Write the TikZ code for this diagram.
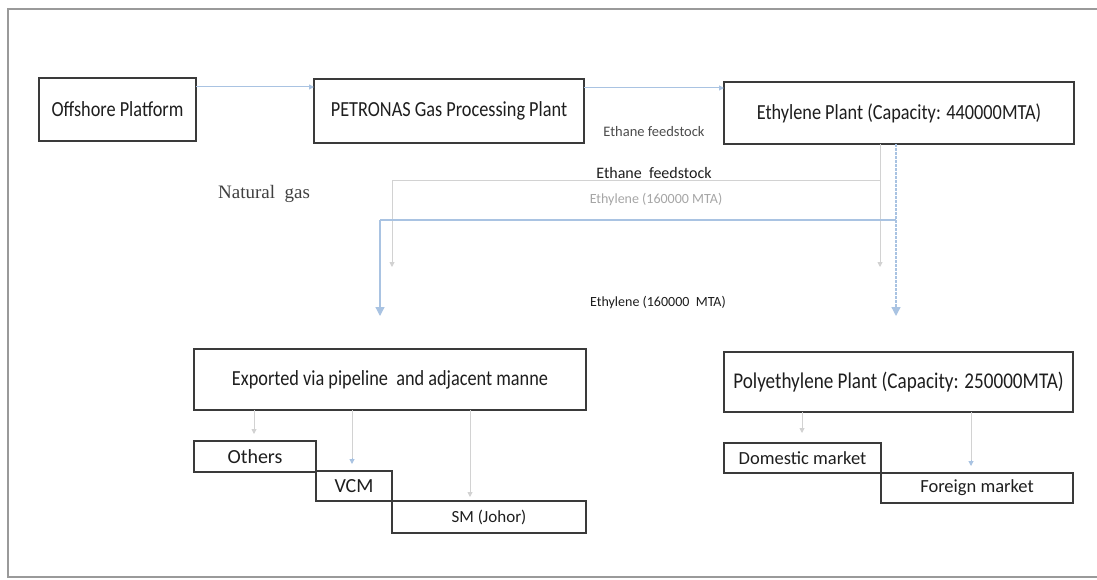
\documentclass[tikz,border=0pt]{standalone}
\usepackage{fontspec}
\setmainfont{Carlito}
\newfontfamily\condfont[FakeStretch=0.85]{Carlito}
\newfontfamily\natfont{Liberation Serif}
\usetikzlibrary{arrows.meta,calc}
\definecolor{boxline}{HTML}{3A3A3A}
\definecolor{conblue}{HTML}{A9C3E2}
\definecolor{faint}{HTML}{D2D2D2}
\definecolor{framecol}{HTML}{9A9A9A}
\definecolor{txt}{HTML}{1E1E1E}
\tikzset{
  box/.style={draw=boxline, line width=1.4pt, inner sep=0pt, outer sep=0pt, text=txt,
    font=\condfont\fontsize{21.5}{24}\selectfont},
  sbox/.style={box, font=\fontsize{20}{22}\selectfont},
  mbox/.style={box, font=\fontsize{18.5}{21}\selectfont},
  bigcon/.style={draw=conblue, line width=1.3pt, -{Triangle[width=9pt,length=9pt]}},
  bigline/.style={draw=conblue, line width=1.3pt},
  smallcon/.style={draw=conblue, line width=1pt, -{Triangle[width=5pt,length=5pt]}},
  faintcon/.style={draw=faint, line width=0.9pt, -{Triangle[width=5pt,length=5pt]}},
  faintline/.style={draw=faint, line width=0.9pt},
  lab/.style={inner sep=0pt, text=txt},
}
\begin{document}
\begin{tikzpicture}[x=1pt,y=-1pt]
\useasboundingbox (0,0) rectangle (1097,580);
\fill[white] (0,0) rectangle (1097,580);
% frame
\draw[framecol, line width=1.3pt] (1097,9) -- (8,9) -- (8,577) -- (1097,577);

% boxes
\node[box, minimum width=157pt, minimum height=63pt] (off) at (117.5,109.5) {Offshore Platform};
\node[box, minimum width=270pt, minimum height=64pt] (pet) at (449,111) {PETRONAS Gas Processing Plant};
\node[box, minimum width=350pt, minimum height=62pt] (eth) at (899,113) {Ethylene Plant (Capacity: 440000MTA)};
\node[box, minimum width=392pt, minimum height=61pt] (exp) at (390,379.5) {Exported via pipeline\ \ and adjacent manne};
\node[box, font=\condfont\fontsize{22.5}{25}\selectfont, minimum width=349pt, minimum height=60pt] (poly) at (898.5,382) {Polyethylene\ Plant (Capacity: 250000MTA)};
\node[sbox, minimum width=122pt, minimum height=31pt] (oth) at (255,456.5) {Others};
\node[sbox, minimum width=76pt, minimum height=30pt] (vcm) at (354,486) {VCM};
\node[box, font=\fontsize{17}{19}\selectfont, minimum width=194pt, minimum height=32pt] (sm) at (489,517) {SM (Johor)};
\node[mbox, minimum width=157pt, minimum height=30pt] (dom) at (802.5,458) {Domestic market};
\node[mbox, minimum width=192pt, minimum height=30pt] (for) at (977,488) {Foreign market};

% labels
\node[lab, font=\fontsize{14.5}{16}\selectfont, text=black!70] (ef1) at (654,132) {Ethane feedstock};
\node[lab, font=\fontsize{16}{18}\selectfont] (ef2) at (654,173) {Ethane\ \ feedstock};
\node[lab, font=\fontsize{14}{16}\selectfont, text=black!35] (et1) at (656,200) {Ethylene (160000 MTA)};
\node[lab, font=\fontsize{14}{16}\selectfont] (et2) at (658,303) {Ethylene (160000\ \ MTA)};
\node[lab, font=\natfont\fontsize{19}{21}\selectfont, text=black!75] (ng) at (264,194) {Natural\ \ gas};

% coordinates for the split
\coordinate (jr) at (896,220);
\coordinate (jl) at (380,220);
\coordinate (rtip) at (896,316);
\coordinate (ltip) at (380,316);
\coordinate (fr) at (880,180);
\coordinate (fl) at (392,180);
\coordinate (frtip) at (880,267);
\coordinate (fltip) at (392,267);

% top arrows
\draw[smallcon] ($(off.north east)+(0,9)$) -- ($(pet.north west)+(0,8)$);
\draw[smallcon] ($(pet.north east)+(0,9)$) -- ($(eth.north west)+(0,6)$);

% faint lines
\draw[faintcon] (eth.south -| fr) -- (frtip);
\draw[faintcon] (fr) -- (fl) -- (fltip);

% main split
\draw[bigcon, dash pattern=on 3pt off 1pt] (eth.south -| jr) -- (rtip);
\draw[bigline] (jr) -- (jl);
\draw[bigcon] (jl) -- (ltip);

% lower connectors
\coordinate (o1) at (254,434);
\coordinate (v1) at (352,464);
\coordinate (s1) at (470,497);
\coordinate (d1) at (802,433);
\coordinate (f1) at (971,466);
\draw[faintcon] (exp.south -| o1) -- (o1);
\draw[faintline] (exp.south -| v1) -- ($(v1)+(0,-5)$);
\draw[smallcon] ($(v1)+(0,-6)$) -- (v1);
\draw[faintcon] (exp.south -| s1) -- (s1);
\draw[faintcon] (poly.south -| d1) -- (d1);
\draw[faintline] (poly.south -| f1) -- ($(f1)+(0,-5)$);
\draw[smallcon] ($(f1)+(0,-6)$) -- (f1);
\end{tikzpicture}
\end{document}
